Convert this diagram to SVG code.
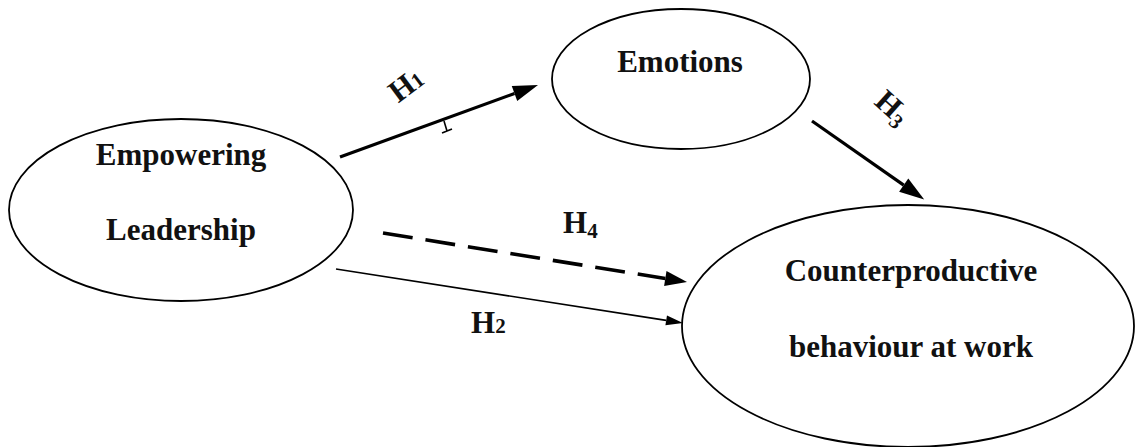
<svg xmlns="http://www.w3.org/2000/svg" width="1135" height="447" viewBox="0 0 1135 447">
  <style>
    .node { fill: #ffffff; stroke: #000000; stroke-width: 1.8; }
    .label { font-family: "Liberation Serif", "Times New Roman", serif; font-weight: bold; font-size: 31px; fill: #111111; text-anchor: middle; }
    .hyp { font-family: "Liberation Serif", "Times New Roman", serif; font-weight: bold; font-size: 31px; fill: #111111; }
    .num { font-size: 21px; }
    .edge { fill: none; stroke: #000000; }
    .thick { stroke-width: 3.2; }
    .thin { stroke-width: 1.6; }
    .dash { stroke-width: 3.6; stroke-dasharray: 30 13; }
  </style>
  <defs>
    <marker id="headBig" markerUnits="userSpaceOnUse" markerWidth="30" markerHeight="20" refX="0" refY="10" orient="auto" overflow="visible">
      <path d="M0,2 L25,10 L0,18 Z" fill="#000000"/>
    </marker>
    <marker id="headMid" markerUnits="userSpaceOnUse" markerWidth="30" markerHeight="20" refX="0" refY="10" orient="auto" overflow="visible">
      <path d="M0,2.5 L22,10 L0,17.5 Z" fill="#000000"/>
    </marker>
    <marker id="headSmall" markerUnits="userSpaceOnUse" markerWidth="20" markerHeight="20" refX="0" refY="10" orient="auto" overflow="visible">
      <path d="M0,5 L17,10 L0,15 Z" fill="#000000"/>
    </marker>
  </defs>
  <rect width="1135" height="447" fill="#ffffff"/>

  <g id="connectors">
    <!-- H1: leadership to emotions -->
    <line class="edge thick" x1="340" y1="157" x2="514.5" y2="93.5" marker-end="url(#headBig)"/>
    <path class="edge" stroke-width="1.6" d="M444,121 L447,131 M442,133 L452,129"/>
    <!-- H3: emotions to counterproductive behaviour -->
    <line class="edge thick" x1="812" y1="121" x2="903.7" y2="185.1" marker-end="url(#headBig)"/>
    <!-- H4: mediated path (dashed) -->
    <line class="edge dash" x1="383" y1="233" x2="665.3" y2="278.5" marker-end="url(#headMid)"/>
    <!-- H2: direct path -->
    <line class="edge thin" x1="336" y1="269" x2="666.2" y2="320.4" marker-end="url(#headSmall)"/>

    <text class="hyp" transform="translate(405,86) rotate(-37)" x="-16" y="10">H<tspan class="num">1</tspan></text>
    <text class="hyp" transform="translate(893,108) rotate(42)" x="-18" y="10">H<tspan class="num" dy="5">3</tspan></text>
    <text class="hyp" x="563" y="233">H<tspan class="num" dy="5">4</tspan></text>
    <text class="hyp" x="471" y="333">H<tspan class="num">2</tspan></text>
  </g>

  <g id="empowering-leadership">
    <ellipse class="node" cx="181" cy="210" rx="172" ry="91"/>
    <text class="label" x="181" y="165">Empowering</text>
    <text class="label" x="181" y="240">Leadership</text>
  </g>

  <g id="emotions">
    <ellipse class="node" cx="681" cy="79" rx="129" ry="70"/>
    <text class="label" x="680" y="72">Emotions</text>
  </g>

  <g id="counterproductive-behaviour">
    <ellipse class="node" cx="908" cy="326" rx="226" ry="121"/>
    <text class="label" x="911" y="281">Counterproductive</text>
    <text class="label" x="911" y="357">behaviour at work</text>
  </g>
</svg>
